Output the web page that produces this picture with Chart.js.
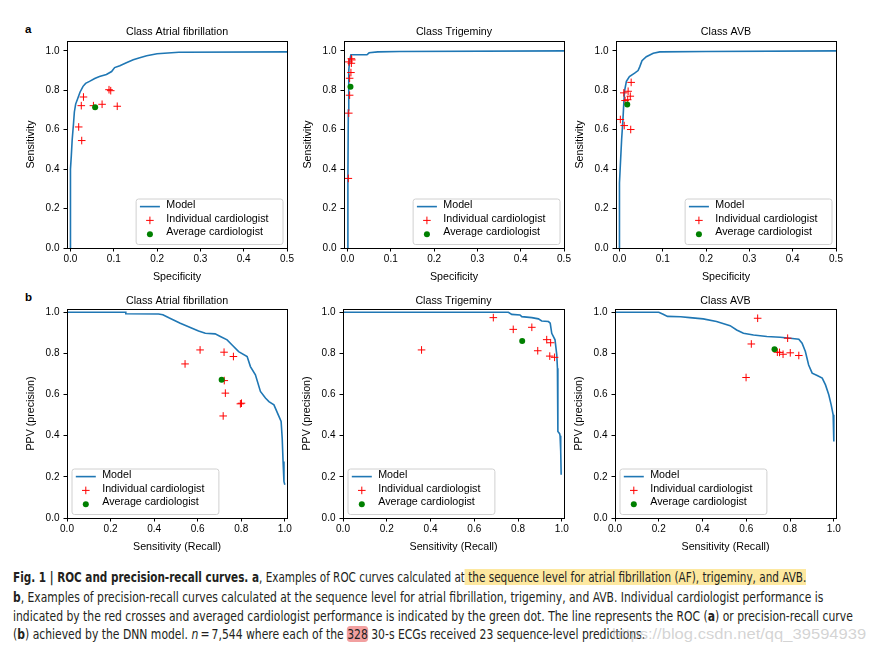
<!DOCTYPE html>
<html><head><meta charset="utf-8">
<script src="https://cdn.jsdelivr.net/npm/chart.js@4"></script>
<style>
html,body{margin:0;padding:0;background:#fff;width:875px;height:650px;overflow:hidden;position:relative;}
canvas{position:absolute;}
.pl{position:absolute;font:bold 11.5px "Liberation Sans",Arial,sans-serif;color:#000;line-height:14px;}
.ln{position:absolute;left:13px;white-space:nowrap;transform-origin:0 50%;line-height:19px;height:19px;
  font-family:"Liberation Sans Narrow","DejaVu Sans Condensed","Liberation Sans",sans-serif;font-size:13.5px;color:#231f20;}
.hy{background:#fde8a0;}
.hr{background:#f2a0a0;border-radius:4px;}
.wm{position:absolute;white-space:nowrap;transform-origin:0 50%;font:15px "Liberation Sans",Arial,sans-serif;color:rgba(175,175,175,0.55);line-height:19px;}
</style></head>
<body>
<div class="pl" style="left:25px;top:22px;">a</div>
<div class="pl" style="left:25px;top:290px;">b</div>

<canvas id="c1" width="282" height="277" style="left:17px;top:11px;"></canvas>
<canvas id="c2" width="282" height="277" style="left:294px;top:11px;"></canvas>
<canvas id="c3" width="282" height="277" style="left:566px;top:11px;"></canvas>
<canvas id="c4" width="282" height="279" style="left:17px;top:279px;"></canvas>
<canvas id="c5" width="283" height="279" style="left:293px;top:279px;"></canvas>
<canvas id="c6" width="283" height="279" style="left:565px;top:279px;"></canvas>

<div class="ln" data-w="793" style="top:568px;"><b>Fig. 1 | ROC and precision-recall curves. a</b>, Examples of ROC curves calculated at<span class="hy"> the sequence level for atrial fibrillation (AF), trigeminy, and AVB.</span></div>
<div class="ln" data-w="810" style="top:587.5px;"><b>b</b>, Examples of precision-recall curves calculated at the sequence level for atrial fibrillation, trigeminy, and AVB. Individual cardiologist performance is</div>
<div class="ln" data-w="840" style="top:606.5px;">indicated by the red crosses and averaged cardiologist performance is indicated by the green dot. The line represents the ROC (<b>a</b>) or precision-recall curve</div>
<div class="ln" data-w="632" style="top:625px;">(<b>b</b>) achieved by the DNN model. <i>n</i>&thinsp;=&thinsp;7,544 where each of the <span class="hr">328</span> 30-s ECGs received 23 sequence-level predictions.</div>
<div class="wm" data-w="254" style="left:612px;top:624px;">https://blog.csdn.net/qq_39594939</div>

<script>
// ---------- data ----------
const panelTitles = ['Class Atrial fibrillation', 'Class Trigeminy', 'Class AVB'];
const rocTicksX = [0, 0.1, 0.2, 0.3, 0.4, 0.5];
const prTicksX = [0, 0.2, 0.4, 0.6, 0.8, 1.0];
const ticksY = [0, 0.2, 0.4, 0.6, 0.8, 1.0];
const legendLabels = ['Model', 'Individual cardiologist', 'Average cardiologist'];

// ROC - Atrial fibrillation
const rocAfModelX = [0, 0, 0.002, 0.004, 0.007, 0.009, 0.012, 0.017, 0.022, 0.029, 0.035, 0.044, 0.056, 0.067, 0.083, 0.095, 0.102, 0.114, 0.129, 0.145, 0.16, 0.176, 0.2, 0.25, 0.5];
const rocAfModelY = [0, 0.40, 0.47, 0.55, 0.63, 0.69, 0.73, 0.76, 0.79, 0.82, 0.835, 0.845, 0.86, 0.87, 0.88, 0.895, 0.915, 0.925, 0.94, 0.955, 0.965, 0.975, 0.985, 0.993, 0.995];
const rocAfCardX = [0.019, 0.026, 0.025, 0.030, 0.053, 0.073, 0.089, 0.093, 0.108];
const rocAfCardY = [0.614, 0.545, 0.722, 0.766, 0.722, 0.729, 0.803, 0.798, 0.719];
const rocAfAvg = [0.057, 0.714];

// ROC - Trigeminy
const rocTrModelX = [0, 0.001, 0.002, 0.003, 0.005, 0.008, 0.045, 0.05, 0.07, 0.12, 0.5];
const rocTrModelY = [0, 0.35, 0.70, 0.90, 0.95, 0.98, 0.98, 0.99, 0.995, 0.997, 1.0];
const rocTrCardX = [0.002, 0.003, 0.005, 0.005, 0.008, 0.003, 0.009, 0.010, 0.009];
const rocTrCardY = [0.353, 0.684, 0.775, 0.861, 0.890, 0.944, 0.937, 0.954, 0.960];
const rocTrAvg = [0.007, 0.818];

// ROC - AVB
const rocAvModelX = [0, 0, 0.002, 0.005, 0.008, 0.010, 0.012, 0.016, 0.023, 0.035, 0.043, 0.047, 0.052, 0.062, 0.078, 0.093, 0.2, 0.5];
const rocAvModelY = [0, 0.33, 0.42, 0.55, 0.65, 0.735, 0.80, 0.845, 0.87, 0.887, 0.90, 0.92, 0.95, 0.97, 0.988, 0.995, 0.997, 1.0];
const rocAvCardX = [0.002, 0.011, 0.026, 0.010, 0.020, 0.025, 0.027, 0.013, 0.019];
const rocAvCardY = [0.652, 0.621, 0.601, 0.787, 0.795, 0.770, 0.840, 0.748, 0.752];
const rocAvAvg = [0.018, 0.728];

// PR - Atrial fibrillation
const prAfModelX = [0, 0.27, 0.27, 0.42, 0.44, 0.47, 0.52, 0.566, 0.604, 0.635, 0.68, 0.704, 0.735, 0.758, 0.788, 0.827, 0.842, 0.865, 0.888, 0.911, 0.927, 0.95, 0.973, 0.983, 0.988, 0.992, 0.996, 1.0];
const prAfModelY = [1.0, 1.0, 0.993, 0.992, 0.988, 0.972, 0.947, 0.926, 0.909, 0.898, 0.895, 0.882, 0.866, 0.841, 0.809, 0.785, 0.736, 0.696, 0.615, 0.583, 0.566, 0.55, 0.494, 0.469, 0.388, 0.275, 0.178, 0.162];
const prAfCardX = [0.542, 0.611, 0.721, 0.764, 0.722, 0.727, 0.796, 0.801, 0.717];
const prAfCardY = [0.749, 0.817, 0.806, 0.785, 0.668, 0.607, 0.555, 0.558, 0.496];
const prAfAvg = [0.710, 0.672];

// PR - Trigeminy
const prTrModelX = [0, 0.756, 0.771, 0.809, 0.817, 0.863, 0.893, 0.908, 0.939, 0.947, 0.954, 0.969, 0.977, 0.98, 0.982, 0.99, 0.992, 0.995, 0.997];
const prTrModelY = [1.0, 1.0, 0.99, 0.987, 0.979, 0.974, 0.968, 0.958, 0.955, 0.947, 0.898, 0.866, 0.793, 0.728, 0.421, 0.41, 0.40, 0.324, 0.21];
const prTrCardX = [0.359, 0.687, 0.778, 0.863, 0.890, 0.931, 0.949, 0.945, 0.967];
const prTrCardY = [0.817, 0.974, 0.917, 0.927, 0.813, 0.867, 0.852, 0.787, 0.781];
const prTrAvg = [0.819, 0.861];

// PR - AVB
const prAvModelX = [0, 0.2, 0.22, 0.24, 0.3, 0.342, 0.403, 0.464, 0.526, 0.556, 0.587, 0.633, 0.694, 0.755, 0.801, 0.84, 0.855, 0.87, 0.885, 0.901, 0.924, 0.947, 0.962, 0.977, 0.988, 0.997, 1.0];
const prAvModelY = [1.0, 1.0, 0.99, 0.98, 0.978, 0.974, 0.968, 0.955, 0.935, 0.914, 0.898, 0.89, 0.882, 0.879, 0.874, 0.869, 0.85, 0.809, 0.744, 0.704, 0.693, 0.68, 0.647, 0.599, 0.55, 0.502, 0.372];
const prAvCardX = [0.652, 0.623, 0.599, 0.789, 0.742, 0.768, 0.801, 0.840, 0.752];
const prAvCardY = [0.971, 0.846, 0.683, 0.874, 0.806, 0.796, 0.803, 0.790, 0.805];
const prAvAvg = [0.729, 0.820];

// ---------- rendering ----------
Chart.defaults.font.family = '"Liberation Sans", Arial, Helvetica, sans-serif';
Chart.defaults.color = '#000';

const zip = (xs, ys) => xs.map((x, i) => ({x: x, y: ys[i]}));

const mplPlugin = {
  id: 'mpl',
  afterLayout(chart) {
    // centre the title over the plotting area, as matplotlib does
    const t = chart.titleBlock, a = chart.chartArea;
    if (t && a) { t.left = a.left; t.right = a.right; }
  },
  afterDatasetsDraw(chart, args, opts) {
    const ctx = chart.ctx, a = chart.chartArea;
    ctx.save();
    // frame (spines)
    ctx.strokeStyle = '#000';
    ctx.lineWidth = 1;
    ctx.strokeRect(Math.round(a.left) + 0.5, Math.round(a.top) + 0.5, Math.round(a.right) - Math.round(a.left), Math.round(a.bottom) - Math.round(a.top));
    // legend
    const fs = 10.7;
    ctx.font = fs + 'px "Liberation Sans", Arial, sans-serif';
    const labels = chart.data.datasets.map(d => d.label);
    const tw = Math.max(...labels.map(l => ctx.measureText(l).width));
    const bw = 30.7 + tw + 14, bh = 45.5;
    const x0 = opts.loc === 'right' ? a.right - 4.5 - bw : a.left + 4.5;
    const y0 = a.bottom - 4 - bh;
    ctx.beginPath();
    ctx.roundRect(x0 + 0.5, y0 + 0.5, bw, bh, 2.5);
    ctx.fillStyle = 'rgba(255,255,255,0.8)';
    ctx.fill();
    ctx.strokeStyle = '#d0d0d0';
    ctx.lineWidth = 1;
    ctx.stroke();
    labels.forEach((lab, i) => {
      const ty = y0 + 6.3 + i * 13.8;
      const hy = ty + 1.8;
      const hx = x0 + 14.3;
      const ds = chart.data.datasets[i];
      if (i === 0) {
        ctx.strokeStyle = ds.borderColor; ctx.lineWidth = ds.borderWidth;
        ctx.beginPath(); ctx.moveTo(x0 + 4.3, hy); ctx.lineTo(x0 + 24.3, hy); ctx.stroke();
      } else if (i === 1) {
        ctx.strokeStyle = ds.pointBorderColor; ctx.lineWidth = 1;
        const r = ds.pointRadius;
        ctx.beginPath(); ctx.moveTo(hx - r, hy); ctx.lineTo(hx + r, hy);
        ctx.moveTo(hx, hy - r); ctx.lineTo(hx, hy + r); ctx.stroke();
      } else {
        ctx.fillStyle = ds.backgroundColor;
        ctx.beginPath(); ctx.arc(hx, hy, ds.pointRadius, 0, Math.PI * 2); ctx.fill();
      }
      ctx.fillStyle = '#000';
      ctx.textBaseline = 'middle';
      ctx.textAlign = 'left';
      ctx.fillText(lab, x0 + 30.7, ty);
    });
    ctx.restore();
  }
};

function makeChart(id, title, xTitle, yTitle, xMin, xMax, yMax, xTicks, mX, mY, cX, cY, avg, loc, titlePad) {
  const axisFont = {size: 10.7, lineHeight: '13px'};
  new Chart(document.getElementById(id), {
    type: 'scatter',
    data: {
      datasets: [
        {label: legendLabels[0], data: zip(mX, mY), showLine: true, borderColor: '#1f77b4', borderWidth: 1.6,
         pointRadius: 0, pointHoverRadius: 0, tension: 0, order: 2, fill: false},
        {label: legendLabels[1], data: zip(cX, cY), showLine: false, pointStyle: 'cross', pointRadius: 3.8,
         pointBorderColor: '#ff0000', borderColor: '#ff0000', pointBorderWidth: 1, order: 1},
        {label: legendLabels[2], data: [{x: avg[0], y: avg[1]}], showLine: false, pointStyle: 'circle', pointRadius: 3,
         backgroundColor: '#008000', pointBackgroundColor: '#008000', borderColor: '#008000', pointBorderWidth: 0, order: 0}
      ]
    },
    options: {
      responsive: false, animation: false, devicePixelRatio: 1, events: [],
      layout: {padding: {left: 8, right: 12, top: 30 - 13 - titlePad, bottom: 4.5}},
      plugins: {
        legend: {display: false}, tooltip: {enabled: false},
        title: {display: true, text: title, color: '#000', font: {size: 10.7, lineHeight: '13px', weight: 'normal'},
                padding: {top: 0, bottom: titlePad}},
        mpl: {loc: loc}
      },
      scales: {
        x: {
          type: 'linear', position: 'bottom', min: xMin, max: xMax,
          afterBuildTicks: s => { s.ticks = xTicks.map(v => ({value: v})); },
          afterFit: s => { s.height = 35.5; },
          ticks: {autoSkip: false, maxRotation: 0, padding: 2, color: '#000', font: {size: 10}, callback: v => v.toFixed(1)},
          grid: {display: true, drawOnChartArea: false, drawTicks: true, tickLength: 3.5, tickWidth: 1, tickColor: '#000'},
          border: {display: false},
          title: {display: true, text: xTitle, color: '#000', font: axisFont, padding: 0}
        },
        y: {
          type: 'linear', position: 'left', min: 0, max: yMax,
          afterBuildTicks: s => { s.ticks = ticksY.map(v => ({value: v})); },
          afterFit: s => { s.width = 42; },
          ticks: {autoSkip: false, padding: 4, color: '#000', font: {size: 10}, callback: v => v.toFixed(1)},
          grid: {display: true, drawOnChartArea: false, drawTicks: true, tickLength: 3.5, tickWidth: 1, tickColor: '#000'},
          border: {display: false},
          title: {display: true, text: yTitle, color: '#000', font: axisFont, padding: 0}
        }
      }
    },
    plugins: [mplPlugin]
  });
}

makeChart('c1', panelTitles[0], 'Specificity', 'Sensitivity', -0.008, 0.5, 1.05, rocTicksX, rocAfModelX, rocAfModelY, rocAfCardX, rocAfCardY, rocAfAvg, 'right', 2.5);
makeChart('c2', panelTitles[1], 'Specificity', 'Sensitivity', -0.008, 0.5, 1.05, rocTicksX, rocTrModelX, rocTrModelY, rocTrCardX, rocTrCardY, rocTrAvg, 'right', 2.5);
makeChart('c3', panelTitles[2], 'Specificity', 'Sensitivity', -0.008, 0.5, 1.05, rocTicksX, rocAvModelX, rocAvModelY, rocAvCardX, rocAvCardY, rocAvAvg, 'right', 2.5);
makeChart('c4', panelTitles[0], 'Sensitivity (Recall)', 'PPV (precision)', 0, 1.01, 1.016, prTicksX, prAfModelX, prAfModelY, prAfCardX, prAfCardY, prAfAvg, 'left', 1.5);
makeChart('c5', panelTitles[1], 'Sensitivity (Recall)', 'PPV (precision)', 0, 1.01, 1.016, prTicksX, prTrModelX, prTrModelY, prTrCardX, prTrCardY, prTrAvg, 'left', 1.5);
makeChart('c6', panelTitles[2], 'Sensitivity (Recall)', 'PPV (precision)', 0, 1.01, 1.016, prTicksX, prAvModelX, prAvModelY, prAvCardX, prAvCardY, prAvAvg, 'left', 1.5);

// fit caption lines to the reference widths
document.querySelectorAll('.ln, .wm').forEach(el => {
  const w = el.scrollWidth;
  const t = +el.dataset.w;
  if (w > 0) el.style.transform = 'scaleX(' + (t / w) + ')';
});
</script>
</body></html>
